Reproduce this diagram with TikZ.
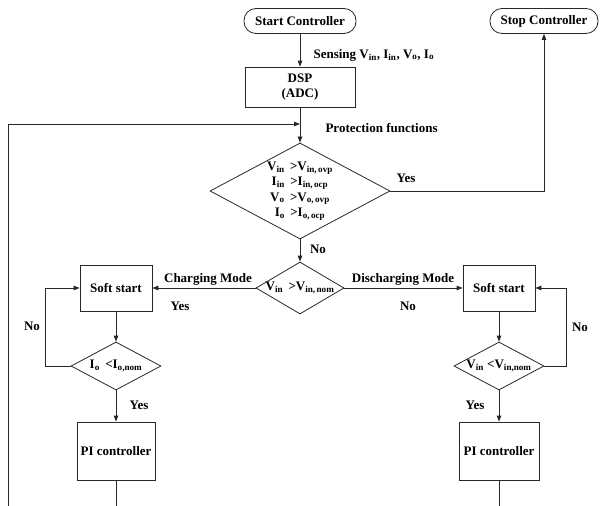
\documentclass[tikz,border=0pt]{standalone}
\usepackage{fontspec}
\setmainfont{Liberation Serif}
\usetikzlibrary{arrows.meta,shapes.geometric}
\definecolor{lncol}{RGB}{40,40,40}
\newcommand{\sbs}[2]{#1\textsubscript{#2}}
\tikzset{
  every node/.style={font=\bfseries\fontsize{13}{15}\selectfont, text=black},
  term/.style={draw=lncol, line width=0.8pt, rounded corners=12pt,
               minimum width=112pt, minimum height=25pt},
  blk/.style={draw=lncol, line width=0.8pt, align=center},
  dec/.style={diamond, draw=lncol, line width=0.8pt, inner sep=0pt},
  flowarr/.style={-{Triangle[length=6pt,width=4.5pt]}, lncol, line width=0.8pt},
  lnk/.style={lncol, line width=0.8pt},
}

\begin{document}
\begin{tikzpicture}[x=1pt, y=-1pt]
  \useasboundingbox (0,0) rectangle (600,506);
  % terminals and blocks
  \node[term] (start) at (300,21) {Start Controller};
  \node[term, minimum width=108pt] (stop) at (544,21) {Stop Controller};
  \node[blk, minimum width=110pt, minimum height=40pt] (dsp) at (300,87) {DSP\\[0pt](ADC)};
  % decisions
  \node[dec, minimum width=180pt, minimum height=96pt] (prot) at (300,191) {};
  \node[align=center, font=\bfseries\fontsize{13}{15.5}\selectfont] (protlbl) at (prot)
    {\sbs{V}{in}\, >\sbs{V}{in,\,ovp}\\ \sbs{I}{in}\, >\sbs{I}{in,\,ocp}\\
     \sbs{V}{o}\, >\sbs{V}{o,\,ovp}\\ \sbs{I}{o}\, >\sbs{I}{o,\,ocp}};
  \node[dec, minimum width=88pt, minimum height=52pt] (nom) at (300,288) {};
  \node (nomlbl) at (nom) {\sbs{V}{in}\, >\sbs{V}{in,\,nom}};
  % charging branch
  \node[blk, minimum width=72pt, minimum height=46pt] (softL) at (116,288) {Soft start};
  \node[dec, minimum width=90pt, minimum height=48pt] (decL) at (116,366) {};
  \node (declbl) at (decL) {\sbs{I}{o}\, <\sbs{I}{o,nom}};
  \node[blk, minimum width=78pt, minimum height=58pt] (piL) at (116,451) {PI controller};
  % discharging branch
  \node[blk, minimum width=72pt, minimum height=46pt] (softR) at (499,288) {Soft start};
  \node[dec, minimum width=90pt, minimum height=48pt] (decR) at (499,366) {};
  \node (decrlbl) at (decR) {\sbs{V}{in} <\sbs{V}{in,nom}};
  \node[blk, minimum width=80pt, minimum height=58pt] (piR) at (499,451) {PI controller};
  % free ends
  \coordinate (jn) at (300,124);
  \coordinate (loopB) at (8,506);
  \coordinate (endL) at (116,506);
  \coordinate (endR) at (499,506);
  % connectors
  \draw[flowarr] (start) -- (dsp);
  \draw[flowarr] (dsp) -- (prot);
  \draw[flowarr] (loopB) |- (jn);
  \draw[flowarr] (prot.east) -| (stop.south);
  \draw[flowarr] (prot) -- (nom);
  \draw[flowarr] (nom) -- (softL);
  \draw[flowarr] (nom) -- (softR);
  \draw[flowarr] (softL) -- (decL);
  \draw[flowarr] (decL.west) -- ++(-25,0) |- (softL.west);
  \draw[flowarr] (decL) -- (piL);
  \draw[flowarr] (softR) -- (decR);
  \draw[flowarr] (decR.east) -- ++(22,0) |- (softR.east);
  \draw[flowarr] (decR) -- (piR);
  \draw[lnk] (piL) -- (endL);
  \draw[lnk] (piR) -- (endR);
  % labels
  \node[anchor=west] (sens) at (310,55) {Sensing \sbs{V}{in}, \sbs{I}{in}, \sbs{V}{o}, \sbs{I}{o}};
  \node[anchor=west] (protfn) at (322,128) {Protection functions};
  \node (yesStop) at (406,178) {Yes};
  \node (noNom) at (318,249) {No};
  \node (chg) at (208,279) {Charging Mode};
  \node (yesChg) at (180,306) {Yes};
  \node (dchg) at (403,279) {Discharging Mode};
  \node (noDchg) at (408,306) {No};
  \node (noL) at (32,326) {No};
  \node (noR) at (580,327) {No};
  \node (yesL) at (139,405) {Yes};
  \node (yesR) at (475,405) {Yes};
\end{tikzpicture}
\end{document}
